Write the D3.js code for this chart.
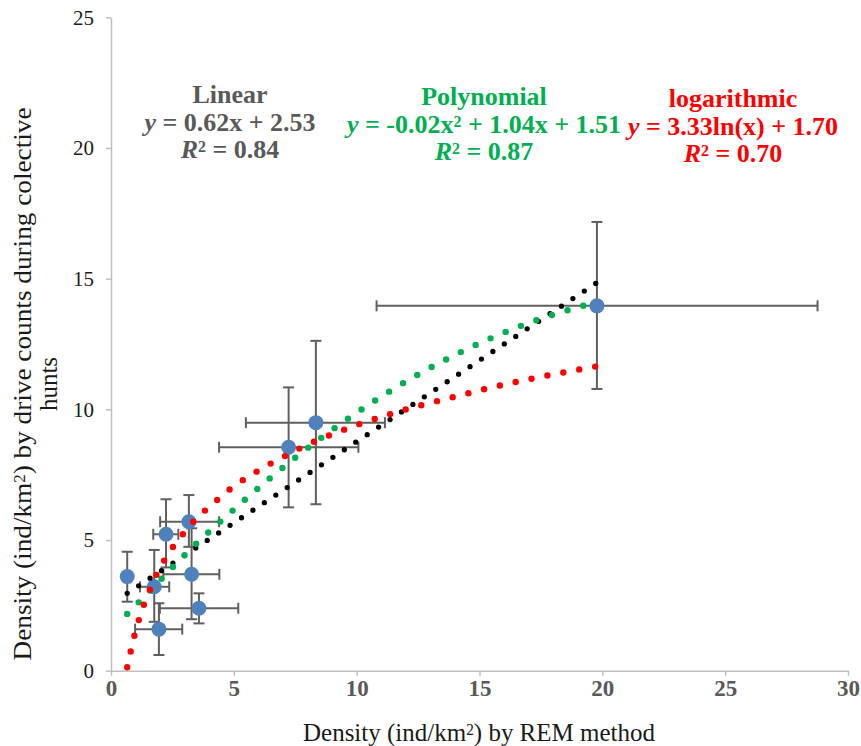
<!DOCTYPE html>
<html>
<head>
<meta charset="utf-8">
<script src="https://cdn.jsdelivr.net/npm/d3@7"></script>
<style>
  body { margin: 0; background: #fff; }
  svg text { font-family: 'Liberation Serif', 'DejaVu Serif', serif; }
</style>
</head>
<body>
<div id="chart"></div>
<script>
// observed points: REM density (x) vs drive count density (y)
const remX = [0.66, 1.76, 2.24, 1.95, 3.17, 3.28, 3.58, 8.34, 7.23, 19.78];
const driveY = [3.60, 3.21, 5.22, 1.59, 5.70, 3.69, 2.39, 9.49, 8.55, 13.96];
const xErrLow = [0.66, 1.18, 1.72, 0.98, 2.00, 2.13, 1.99, 5.49, 4.40, 10.81];
const xErrHigh = [0.66, 2.37, 2.74, 2.90, 4.40, 4.41, 5.18, 11.15, 10.07, 28.76];
const yErrLow = [2.64, 1.87, 3.95, 0.60, 4.74, 1.97, 1.81, 6.37, 6.25, 10.78];
const yErrHigh = [4.55, 4.62, 6.56, 2.58, 6.72, 5.45, 2.96, 12.62, 10.84, 17.17];

// trendlines
const linearX = [0.66, 19.74];
const linearY = [2.96, 14.82];
const polyX = [0.66, 1.59, 2.51, 3.46, 4.42, 5.4, 6.4, 7.42, 9.55, 11.76, 13.5, 15.29, 17.1, 18.36, 19.63];
const polyY = [2.17, 3.06, 3.96, 4.85, 5.68, 6.5, 7.31, 8.09, 9.58, 10.93, 11.84, 12.65, 13.34, 13.73, 14.07];
const logX = [0.66, 0.8, 0.95, 1.13, 1.33, 1.58, 1.84, 2.16, 2.52, 2.92, 3.35, 3.84, 4.33, 4.84, 5.38, 5.95, 6.51, 7.1, 7.65, 10.13, 12.02, 13.93, 15.86, 17.8, 19.74];
const logY = [0.13, 0.73, 1.33, 1.93, 2.51, 3.1, 3.65, 4.21, 4.73, 5.22, 5.7, 6.14, 6.54, 6.94, 7.3, 7.63, 7.93, 8.22, 8.49, 9.44, 10.0, 10.47, 10.92, 11.3, 11.64];

const xTicks = [0, 5, 10, 15, 20, 25, 30];
const yTicks = [0, 5, 10, 15, 20, 25];

const width = 861;
const height = 746;

const svg = d3.select('#chart').append('svg')
  .attr('width', width)
  .attr('height', height);

const x = d3.scaleLinear().domain([0, 30]).range([111, 848]);
const y = d3.scaleLinear().domain([0, 25]).range([670.7, 17.3]);

// axes
const xAxis = svg.append('g')
  .attr('transform', `translate(0,${y(0)})`)
  .call(d3.axisBottom(x).tickValues(xTicks).tickSize(5).tickSizeOuter(0).tickPadding(4));
xAxis.select('.domain').attr('stroke', '#bfbfbf').attr('stroke-width', 1.5);
xAxis.selectAll('.tick line').attr('stroke', '#bfbfbf').attr('stroke-width', 1.5);
xAxis.selectAll('.tick text')
  .attr('fill', '#595959')
  .attr('font-weight', 'bold')
  .style('font-size', '23px');

const yAxis = svg.append('g')
  .attr('transform', `translate(${x(0)},0)`)
  .call(d3.axisLeft(y).tickValues(yTicks).tickSize(5).tickSizeOuter(0).tickPadding(12));
yAxis.select('.domain').attr('stroke', '#bfbfbf').attr('stroke-width', 1.5);
yAxis.selectAll('.tick line').attr('stroke', '#bfbfbf').attr('stroke-width', 1.5);
yAxis.selectAll('.tick text')
  .attr('fill', '#1a1a1a')
  .style('font-size', '21px');

// axis titles
const xTitle = svg.append('text')
  .attr('x', 479)
  .attr('y', 741)
  .attr('text-anchor', 'middle')
  .attr('fill', '#1a1a1a')
  .attr('textLength', 352)
  .attr('lengthAdjust', 'spacingAndGlyphs')
  .style('font-size', '26px');
xTitle.append('tspan').text('Density (ind/km');
xTitle.append('tspan').attr('baseline-shift', '38%').style('font-size', '16px').text('2');
xTitle.append('tspan').text(') by REM method');

const yTitle = svg.append('text')
  .attr('transform', 'translate(31,384) rotate(-90)')
  .attr('text-anchor', 'middle')
  .attr('fill', '#1a1a1a')
  .attr('textLength', 553)
  .attr('lengthAdjust', 'spacingAndGlyphs')
  .style('font-size', '26px');
yTitle.append('tspan').text('Density (ind/km');
yTitle.append('tspan').attr('baseline-shift', '38%').style('font-size', '16px').text('2');
yTitle.append('tspan').text(') by drive counts during colective');
svg.append('text')
  .attr('transform', 'translate(57,384) rotate(-90)')
  .attr('text-anchor', 'middle')
  .attr('fill', '#1a1a1a')
  .attr('textLength', 54)
  .attr('lengthAdjust', 'spacingAndGlyphs')
  .style('font-size', '26px')
  .text('hunts');

// error bars
const points = remX.map((v, i) => ({
  x: v, y: driveY[i],
  x0: xErrLow[i], x1: xErrHigh[i],
  y0: yErrLow[i], y1: yErrHigh[i]
}));
const cap = 5.5;
const errG = svg.append('g')
  .attr('stroke', '#5f5f5f')
  .attr('stroke-width', 2)
  .attr('fill', 'none');
points.forEach(d => {
  if (d.x1 > d.x0) {
    errG.append('line')
      .attr('x1', x(d.x0)).attr('x2', x(d.x1))
      .attr('y1', y(d.y)).attr('y2', y(d.y));
    [d.x0, d.x1].forEach(v => {
      errG.append('line')
        .attr('x1', x(v)).attr('x2', x(v))
        .attr('y1', y(d.y) - cap).attr('y2', y(d.y) + cap);
    });
  }
  errG.append('line')
    .attr('x1', x(d.x)).attr('x2', x(d.x))
    .attr('y1', y(d.y0)).attr('y2', y(d.y1));
  [d.y0, d.y1].forEach(v => {
    errG.append('line')
      .attr('x1', x(d.x) - cap).attr('x2', x(d.x) + cap)
      .attr('y1', y(v)).attr('y2', y(v));
  });
});

// markers
svg.append('g').selectAll('circle')
  .data(points)
  .enter()
  .append('circle')
  .attr('cx', d => x(d.x))
  .attr('cy', d => y(d.y))
  .attr('r', 7.5)
  .attr('fill', '#4f81bd');

// dotted trendlines
const line = d3.line()
  .x(d => x(d[0]))
  .y(d => y(d[1]))
  .curve(d3.curveMonotoneX);

function trend(xs, ys, color, w, gap) {
  svg.append('path')
    .datum(xs.map((v, i) => [v, ys[i]]))
    .attr('d', line)
    .attr('fill', 'none')
    .attr('stroke', color)
    .attr('stroke-width', w)
    .attr('stroke-linecap', 'round')
    .attr('stroke-dasharray', `0 ${gap}`);
}
trend(linearX, linearY, '#000000', 5.3, 13.7);
trend(polyX, polyY, '#00b050', 6.4, 16.4);
trend(logX, logY, '#ff0000', 6.4, 16.2);

// equation labels
function sup(t, s) {
  t.append('tspan').attr('baseline-shift', '35%').style('font-size', '16px').text(s);
}
function block(cx, base, color, title) {
  const g = svg.append('g')
    .attr('fill', color)
    .attr('font-weight', 'bold')
    .attr('text-anchor', 'middle')
    .style('font-size', '26px');
  g.append('text').attr('x', cx).attr('y', base).text(title);
  const eq = g.append('text').attr('x', cx).attr('y', base + 28);
  const r2 = g.append('text').attr('x', cx).attr('y', base + 55);
  return { eq, r2 };
}

const lin = block(230, 103, '#595959', 'Linear');
lin.eq.append('tspan').attr('font-style', 'italic').text('y');
lin.eq.append('tspan').text(' = 0.62x + 2.53');
lin.r2.append('tspan').attr('font-style', 'italic').text('R');
sup(lin.r2, '2');
lin.r2.append('tspan').text(' = 0.84');

const poly = block(484, 105, '#00b050', 'Polynomial');
poly.eq.append('tspan').attr('font-style', 'italic').text('y');
poly.eq.append('tspan').text(' = -0.02x');
sup(poly.eq, '2');
poly.eq.append('tspan').text(' + 1.04x + 1.51');
poly.r2.append('tspan').attr('font-style', 'italic').text('R');
sup(poly.r2, '2');
poly.r2.append('tspan').text(' = 0.87');

const logb = block(733, 107, '#ff0000', 'logarithmic');
logb.eq.append('tspan').attr('font-style', 'italic').text('y');
logb.eq.append('tspan').text(' = 3.33ln(x) + 1.70');
logb.r2.append('tspan').attr('font-style', 'italic').text('R');
sup(logb.r2, '2');
logb.r2.append('tspan').text(' = 0.70');
</script>
</body>
</html>
